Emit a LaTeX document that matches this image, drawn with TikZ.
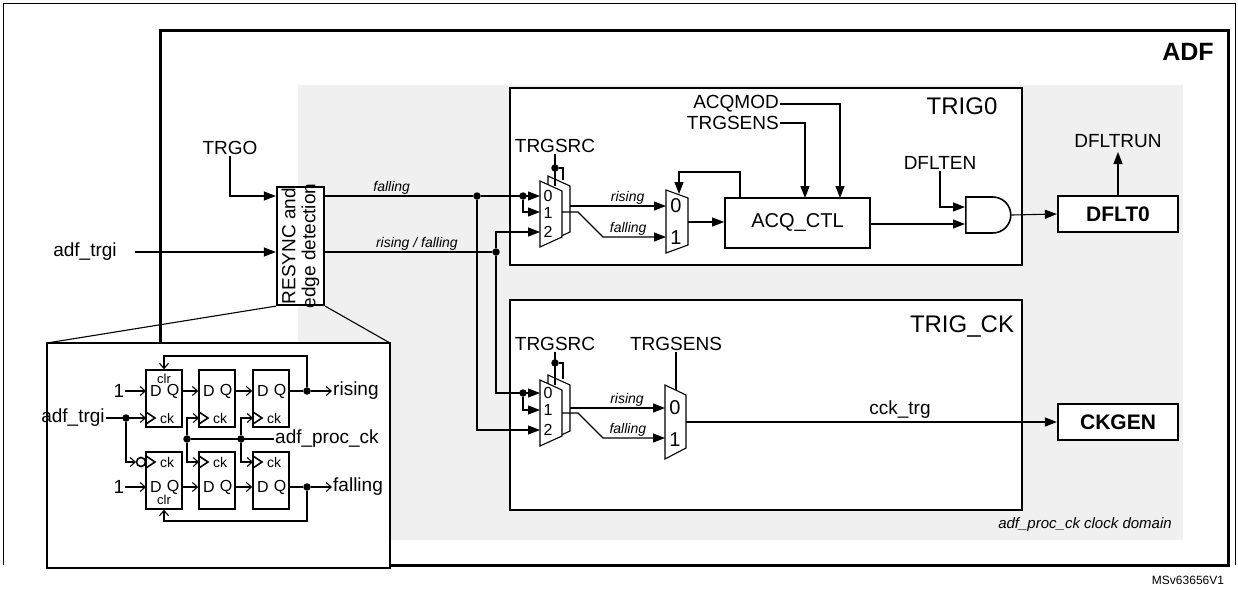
\documentclass[tikz,border=0pt]{standalone}
\usepackage{fontspec}
\setmainfont{Liberation Sans}
\usetikzlibrary{arrows.meta,shapes.gates.logic.US}
\begin{document}
\begin{tikzpicture}[x=1pt,y=-1pt,
  ar/.style={-{Triangle[length=12pt,width=9pt]},line width=1.1pt},
  ln/.style={line width=1.1pt},
  oa/.style={-{Straight Barb[length=5pt,width=9pt]},line width=1.1pt},
  dot/.style={circle,fill,inner sep=0pt,minimum size=7.5pt},
  lbl/.style={font=\fontsize{19}{19}\selectfont,inner sep=1pt},
  sig/.style={font=\fontsize{14}{14}\selectfont\itshape,inner sep=1.5pt},
  box/.style={draw,line width=2.2pt,fill=white},
  ff/.style={draw,line width=1.6pt,fill=white},
  sm/.style={font=\fontsize{16}{16}\selectfont,inner sep=0.5pt}]
\useasboundingbox (0,0) rectangle (1238,589);
\draw[line width=0.6pt] (3,565) -- (3,3) -- (1235,3) -- (1235,565);
% ADF outer
\draw[line width=3pt] (160,30) rectangle (1228,565);
\node[font=\fontsize{25}{25}\selectfont\bfseries] (adf) at (1188,52) {ADF};
\fill[gray!12] (298,85) rectangle (1183,540);
\node[font=\fontsize{15}{15}\selectfont\itshape] (dom) at (1085,525) {adf\_proc\_ck clock domain};
\node[font=\fontsize{12}{12}\selectfont] (ms) at (1188,580) {MSv63656V1};
% TRIG boxes
\draw[box] (510,88) rectangle (1022,265);
\node[font=\fontsize{24}{24}\selectfont] (t0) at (962,106) {TRIG0};
\draw[box] (510,300) rectangle (1022,510);
\node[font=\fontsize{24}{24}\selectfont] (tck) at (962,327) {TRIG\_CK};
% RESYNC
\node[box,minimum width=47pt,minimum height=118pt,inner sep=0pt] (rs) at (300.5,246) {};
\node[rotate=90,align=center,font=\fontsize{19}{20}\selectfont] at (rs) {RESYNC and\\edge detection};
\node[lbl] (trgo) at (230,148) {TRGO};
\draw[ar] (trgo.south) |- (rs.west |- 0,196);
\node[lbl] (atrg) at (85,252) {adf\_trgi};
\draw[ar] (135,252) -- (rs.west |- 0,252);
% signals
\node[dot] (d1) at (477,196) {};
\node[dot] (d2) at (496,252) {};
\draw[ln] (rs.east |- 0,196) -- (d1) node[sig,pos=0.45,above] {falling};
\draw[ln] (rs.east |- 0,252) -- (d2) node[sig,pos=0.55,above] {rising / falling};
% ---- mux TRIG0
\draw[ln,fill=white] (548,176) -- (570,186) -- (570,232) -- (548,242) -- cycle;
\draw[ln,fill=white] (540,181) -- (562,191) -- (562,237) -- (540,247) -- cycle;
\node[sm] at (548,196) {0}; \node[sm] at (548,213) {1}; \node[sm] at (548,232) {2};
\node[lbl] (src0) at (555,146) {TRGSRC};
\node[dot] (sd0) at (555,168) {};
\draw[ln] (src0.south) -- (555,186);
\draw[ln] (sd0) -- (563,168) -- (563,180);
\node[dot] (id0) at (523,196) {};
\draw[ar] (d1) -- (540,196);
\draw[ar] (id0) |- (540,212);
\draw[ar] (d2) |- (540,232);
\draw[ln,fill=white] (666,190) -- (688,198) -- (688,245) -- (666,253) -- cycle;
\node[font=\fontsize{20}{20}\selectfont] at (676,206) {0}; \node[font=\fontsize{20}{20}\selectfont] at (676,238) {1};
\draw[ar] (570,206) -- (666,206) node[sig,pos=0.6,above] {rising};
\draw[ar] (562,212) -- (578,212) -- (603,237) -- (666,237) node[sig,pos=0.4,above] {falling};
\node[draw,line width=1.6pt,fill=white,minimum width=145pt,minimum height=50pt,inner sep=0pt,font=\fontsize{20}{20}\selectfont] (acq) at (797.5,223) {ACQ\_CTL};
\draw[ar] (688,222) -- (acq.west |- 0,222);
\draw[ar] (740,198) -- (740,172) -- (679,172) -- (679,194);
\node[lbl,anchor=east] (acqm) at (780,104) {ACQMOD};
\node[lbl,anchor=east] (tsen) at (780,123) {TRGSENS};
\draw[ar] (acqm.east) -| (840,198);
\draw[ar] (tsen.east) -| (805,198);
\node[and gate US,draw,line width=1.6pt,fill=white,minimum width=45pt,minimum height=34pt,inner sep=0pt,anchor=west] (and) at (965,215) {};
\draw[ar] (acq.east |- 0,224) -- (965,224);
\node[lbl] (en) at (940,163) {DFLTEN};
\draw[ar] (en.south) |- (965,207);
\node[box,minimum width=120pt,minimum height=36pt,inner sep=0pt,font=\fontsize{21}{21}\selectfont\bfseries] (dflt) at (1118,214) {DFLT0};
\draw[ar] (and.output) -- (dflt.west);
\node[lbl] (run) at (1118,141) {DFLTRUN};
\draw[ar] (dflt.north) -- (1118,152);
% ---- mux TRIG_CK
\draw[ln,fill=white] (548,375) -- (570,385) -- (570,431) -- (548,441) -- cycle;
\draw[ln,fill=white] (540,380) -- (562,390) -- (562,436) -- (540,446) -- cycle;
\node[sm] at (548,393) {0}; \node[sm] at (548,410) {1}; \node[sm] at (548,430) {2};
\node[lbl] (src1) at (555,344) {TRGSRC};
\node[dot] (sd1) at (555,363) {};
\draw[ln] (src1.south) -- (555,385);
\draw[ln] (sd1) -- (563,363) -- (563,379);
\node[dot] (id1) at (523,393) {};
\draw[ar] (d2) |- (540,393);
\draw[ar] (id1) |- (540,410);
\draw[ar] (d1) |- (540,430);
\draw[ln,fill=white] (665,385) -- (686,395) -- (686,448) -- (665,459) -- cycle;
\node[font=\fontsize{20}{20}\selectfont] at (675,408) {0}; \node[font=\fontsize{20}{20}\selectfont] at (675,440) {1};
\draw[ar] (570,408) -- (665,408) node[sig,pos=0.6,above] {rising};
\draw[ar] (562,413) -- (578,413) -- (603,438) -- (665,438) node[sig,pos=0.4,above] {falling};
\node[lbl] (tsen2) at (676,344) {TRGSENS};
\draw[ln] (tsen2.south) -- (676,390);
\node[box,minimum width=120pt,minimum height=36pt,inner sep=0pt,font=\fontsize{21}{21}\selectfont\bfseries] (ckg) at (1118,422) {CKGEN};
\draw[ar] (686,422) -- (ckg.west);
\node[lbl] at (900,410) {cck\_trg};
% ---- inset
\draw[ln] (rs.south west) -- (47,343);
\draw[ln] (rs.south east) -- (390,343);
\draw[box] (47,343) rectangle (390,568);
\foreach \n/\x in {a/146,b/199,c/253}{
  \node[ff,minimum width=36pt,minimum height=57pt,inner sep=0pt] (t\n) at (\x+18,398.5) {};
  \node[ff,minimum width=36pt,minimum height=57pt,inner sep=0pt] (b\n) at (\x+18,480.5) {};
  \node[sm] at (\x+10,391) {D}; \node[sm] at (\x+27,391) {Q};
  \node[sm] at (\x+10,487) {D}; \node[sm] at (\x+27,487) {Q};
  \node[font=\fontsize{14}{14}\selectfont] at (\x+21,418) {ck}; \node[font=\fontsize{14}{14}\selectfont] at (\x+21,462) {ck};
  \draw[line width=1.6pt] (\x,412)--(\x+9,418)--(\x,424);
  \draw[line width=1.6pt] (\x,456)--(\x+9,462)--(\x,468);
}
\node[font=\fontsize{13}{13}\selectfont] at (164,379) {clr};
\node[font=\fontsize{13}{13}\selectfont] at (164,500) {clr};
\draw[oa] (ta.east |- 0,391) -- (tb.west |- 0,391);
\draw[oa] (tb.east |- 0,391) -- (tc.west |- 0,391);
\draw[oa] (ba.east |- 0,487) -- (bb.west |- 0,487);
\draw[oa] (bb.east |- 0,487) -- (bc.west |- 0,487);
\node[lbl] (one1) at (119,391) {1};
\node[lbl] (one2) at (119,487) {1};
\draw[oa] (one1.east) -- (146,391);
\draw[oa] (one2.east) -- (146,487);
\node[lbl] (iat) at (73,418) {adf\_trgi};
\node[dot] (ad) at (126,418) {};
\draw[oa] (iat.east) -- (146,418);
\draw[line width=1.6pt] (141,462) circle (4.5pt);
\draw[oa] (ad) |- (136,462);
\node[dot] (rq) at (307,391) {};
\node[dot] (fq) at (307,487) {};
\draw[ln] (tc.east |- 0,391) -- (rq);
\draw[ln] (bc.east |- 0,487) -- (fq);
\node[lbl,anchor=west] (ris) at (332,391) {rising};
\node[lbl,anchor=west] (fal) at (332,487) {falling};
\draw[oa] (rq) -- (ris.west);
\draw[oa] (fq) -- (fal.west);
\draw[oa] (rq) |- (164,356) -- (ta.north);
\draw[oa] (fq) |- (164,521) -- (ba.south);
\node[lbl,anchor=west] (pck) at (274,439) {adf\_proc\_ck};
\node[dot] (p1) at (187,439) {};
\node[dot] (p2) at (241,439) {};
\draw[ln] (pck.west) -- (p1);
\draw[oa] (p1) |- (199,418);
\draw[oa] (p1) |- (199,462);
\draw[oa] (p2) |- (253,418);
\draw[oa] (p2) |- (253,462);
\end{tikzpicture}
\end{document}
